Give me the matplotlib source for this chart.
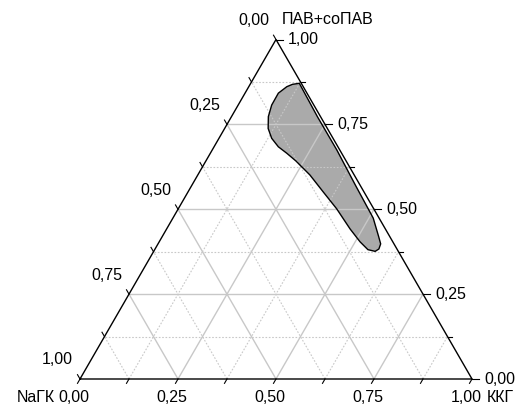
# -*- coding: utf-8 -*-
"""
Тройная диаграмма NaГК - ККГ - ПАВ+соПАВ
"""

import numpy as np
import matplotlib
matplotlib.use('Agg')
import matplotlib.pyplot as plt

plt.rcParams['font.family'] = ['Liberation Sans', 'DejaVu Sans']

# подписи делений и вершин
tick_values = [0.0, 0.25, 0.50, 0.75, 1.0]
minor_values = [0.125, 0.375, 0.625, 0.875]
tick_labels = ['0,00', '0,25', '0,50', '0,75', '1,00']
title_top = 'ПАВ+соПАВ'
title_left = 'NaГК'
title_right = 'ККГ'

# контур области (доли ККГ и ПАВ+соПАВ)
region_kkg = [0.124, 0.108, 0.097, 0.085, 0.0855, 0.094, 0.111, 0.1345, 0.164, 0.195,
              0.230, 0.286, 0.345, 0.4045, 0.468, 0.5125, 0.544, 0.565, 0.571, 0.568,
              0.551, 0.511, 0.418, 0.318, 0.220]
region_pav = [0.871, 0.868, 0.861, 0.842, 0.807, 0.773, 0.738, 0.709, 0.684, 0.665,
              0.642, 0.601, 0.551, 0.501, 0.442, 0.404, 0.381, 0.376, 0.383, 0.398,
              0.421, 0.474, 0.570, 0.6745, 0.772]


def to_xy(kkg, pav):
    kkg = np.asarray(kkg, dtype=float)
    pav = np.asarray(pav, dtype=float)
    return kkg + 0.5 * pav, pav * np.sqrt(3) / 2


fig = plt.figure(figsize=(5.18, 4.05), dpi=100)
ax = fig.add_axes([0, 0, 1, 1])
ax.set_xlim(-80 / 392, 438 / 392)
ax.set_ylim(-26 / 392, 379 / 392)
ax.set_aspect('equal')
ax.axis('off')

# сетка
for v in tick_values[1:-1] + minor_values:
    major = v in tick_values
    style = dict(color='#c8c8c8', lw=1.0 if major else 0.8,
                 ls='-' if major else (0, (1.5, 1.5)), zorder=3)
    # ПАВ = const
    x, y = to_xy([0, 1 - v], [v, v])
    ax.plot(x, y, **style)
    # ККГ = const
    x, y = to_xy([v, v], [0, 1 - v])
    ax.plot(x, y, **style)
    # NaГК = const
    x, y = to_xy([1 - v, 0], [0, 1 - v])
    ax.plot(x, y, **style)

# область
rx, ry = to_xy(region_kkg, region_pav)
ax.fill(rx, ry, facecolor='#aaaaaa', edgecolor='none', zorder=2)
ax.fill(rx, ry, facecolor='none', edgecolor='black', lw=1.0, zorder=4)

# стороны треугольника
x, y = to_xy([0, 1, 0, 0], [0, 0, 1, 0])
ax.plot(x, y, color='black', lw=1.0, zorder=5, solid_joinstyle='miter')

# деления
s = np.sqrt(3) / 2
for v in tick_values + minor_values:
    major = v in tick_values
    # правая ось (ПАВ)
    x, y = to_xy(1 - v, v)
    L = (7 if major else 4) / 392
    ax.plot([x, x + L], [y, y], color='black', lw=0.8, zorder=5)
    # левая ось (NaГК), 0 вверху
    x, y = to_xy(0, 1 - v)
    L = 5 / 392
    ax.plot([x, x - 0.5 * L], [y, y + s * L], color='black', lw=0.8, zorder=5)
    # нижняя ось (ККГ)
    x, y = to_xy(v, 0)
    ax.plot([x, x - 0.5 * L], [y, y - s * L], color='black', lw=0.8, zorder=5)

fs = 11.5
for v, lab in zip(tick_values, tick_labels):
    x, y = to_xy(1 - v, v)
    ax.annotate(lab, (x, y), xytext=(12, 0), textcoords='offset pixels',
                ha='left', va='center', fontsize=fs)
    x, y = to_xy(0, 1 - v)
    ax.annotate(lab, (x, y), xytext=(-7, 19), textcoords='offset pixels',
                ha='right', va='center', fontsize=fs)
    x, y = to_xy(v, 0)
    ax.annotate(lab, (x, y), xytext=(-6, -19), textcoords='offset pixels',
                ha='center', va='center', fontsize=fs)

x, y = to_xy(0, 1)
ax.annotate(title_top, (x, y), xytext=(6, 20), textcoords='offset pixels',
            ha='left', va='center', fontsize=fs)
x, y = to_xy(0, 0)
ax.annotate(title_left, (x, y), xytext=(-25, -19), textcoords='offset pixels',
            ha='right', va='center', fontsize=fs)
x, y = to_xy(1, 0)
ax.annotate(title_right, (x, y), xytext=(15, -19), textcoords='offset pixels',
            ha='left', va='center', fontsize=fs)

fig.savefig('out.png', dpi=100)
